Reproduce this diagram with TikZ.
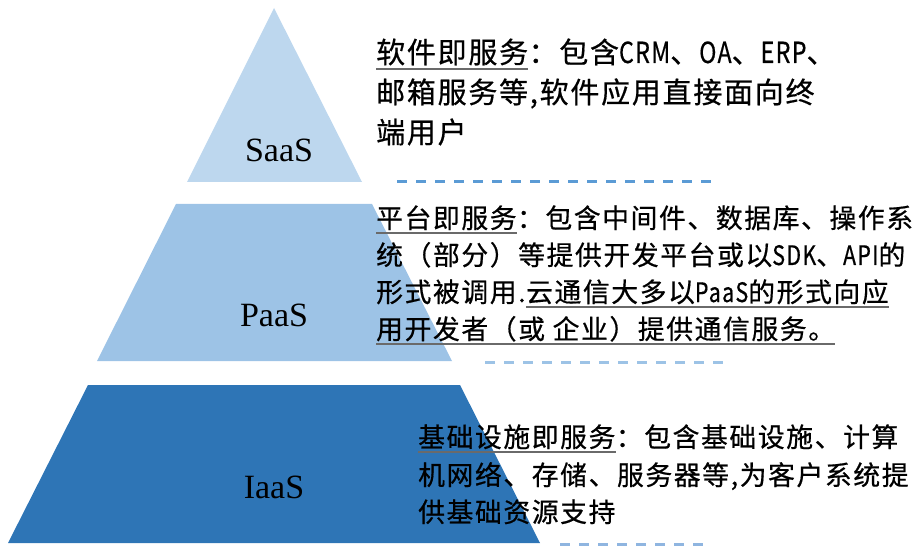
\documentclass[tikz,border=0pt]{standalone}
\usepackage{fontspec}
\usepackage{graphicx}
\setmainfont{Liberation Serif}
\newfontfamily\cjk[LetterSpace=6,FakeBold=0.6]{Noto Sans CJK SC}
\newcommand\nlat[1]{\scalebox{0.8}[1]{#1}}
\definecolor{saasblue}{HTML}{BDD7EE}
\definecolor{paasblue}{HTML}{9DC3E6}
\definecolor{iaasblue}{HTML}{2E75B6}
\definecolor{sepdark}{HTML}{5B9BD5}
\definecolor{seplight}{HTML}{9DC3E6}
\definecolor{sepmid}{HTML}{8FB5E0}
\definecolor{ulgray}{HTML}{6A6A6A}
\tikzset{
  layer/.style={inner sep=0pt, font=\fontsize{34}{34}\selectfont},
  saastxt/.style={inner sep=0pt, anchor=base west, font=\cjk\fontsize{29}{29}\selectfont},
  desc/.style={inner sep=0pt, anchor=base west, font=\cjk\fontsize{26.8}{27}\selectfont},
  uline/.style={draw=ulgray, line width=1.5pt},
  sep/.style={line width=3pt, dash pattern=on 10pt off 9pt},
}
\begin{document}
\begin{tikzpicture}[x=1pt,y=-1pt]
\useasboundingbox (0,0) rectangle (919,548);

% pyramid
\fill[saasblue] (274,8) -- (362,182) -- (187,182) -- cycle;
\fill[paasblue] (176,204) -- (372,204) -- (452,361) -- (97,361) -- cycle;
\fill[iaasblue] (88,385) -- (460,385) -- (540,543) -- (8,543) -- cycle;
\node[layer] (saas) at (279,150) {SaaS};
\node[layer] (paas) at (274,315) {PaaS};
\node[layer] (iaas) at (274,487) {IaaS};

% SaaS
\node[saastxt] (s1a) at (376,63) {软件即服务};
\node[saastxt] (s1b) at (s1a.base east) {：包含\nlat{CRM}、\nlat{OA}、\nlat{ERP}、};
\node[saastxt] (s2) at (376,103) {邮箱服务等,软件应用直接面向终};
\node[saastxt] (s3) at (376,143) {端用户};
\draw[uline] ([yshift=-6pt]s1a.base west) -- ([yshift=-6pt]s1a.base east);

% PaaS
\node[desc] (p1a) at (376,228) {平台即服务};
\node[desc] (p1b) at (p1a.base east) {：包含中间件、数据库、操作系};
\node[desc] (p2) at (376,265) {统（部分）等提供开发平台或以\nlat{SDK}、\nlat{API}的};
\node[desc] (p3a) at (376,302) {形式被调用.};
\node[desc] (p3b) at (p3a.base east) {云通信大多以\nlat{PaaS}的形式向应};
\node[desc] (p4) at (376,339) {用开发者（或 企业）提供通信服务。};
\draw[uline] ([yshift=-5pt]p1a.base west) -- ([yshift=-5pt]p1a.base east);
\draw[uline] ([yshift=-5pt]p3b.base west) -- ([yshift=-5pt]p3b.base east);
\draw[uline] ([yshift=-5pt]p4.base west) -- ([yshift=-5pt]p4.base east);

% IaaS
\node[desc] (i1a) at (418,447) {基础设施即服务};
\node[desc] (i1b) at (i1a.base east) {：包含基础设施、计算};
\node[desc] (i2) at (418,485) {机网络、存储、服务器等,为客户系统提};
\node[desc] (i3) at (418,522) {供基础资源支持};
\draw[uline] ([yshift=-5pt]i1a.base west) -- ([yshift=-5pt]i1a.base east);

% separators
\coordinate (d1a) at (397,182);
\coordinate (d1b) at (715,182);
\coordinate (d2a) at (485,362);
\coordinate (d2b) at (723,362);
\coordinate (d3a) at (560,544);
\coordinate (d3b) at (705,544);
\draw[sep, sepdark] (d1a) -- (d1b);
\draw[sep, seplight] (d2a) -- (d2b);
\draw[sep, sepmid] (d3a) -- (d3b);
\end{tikzpicture}
\end{document}
